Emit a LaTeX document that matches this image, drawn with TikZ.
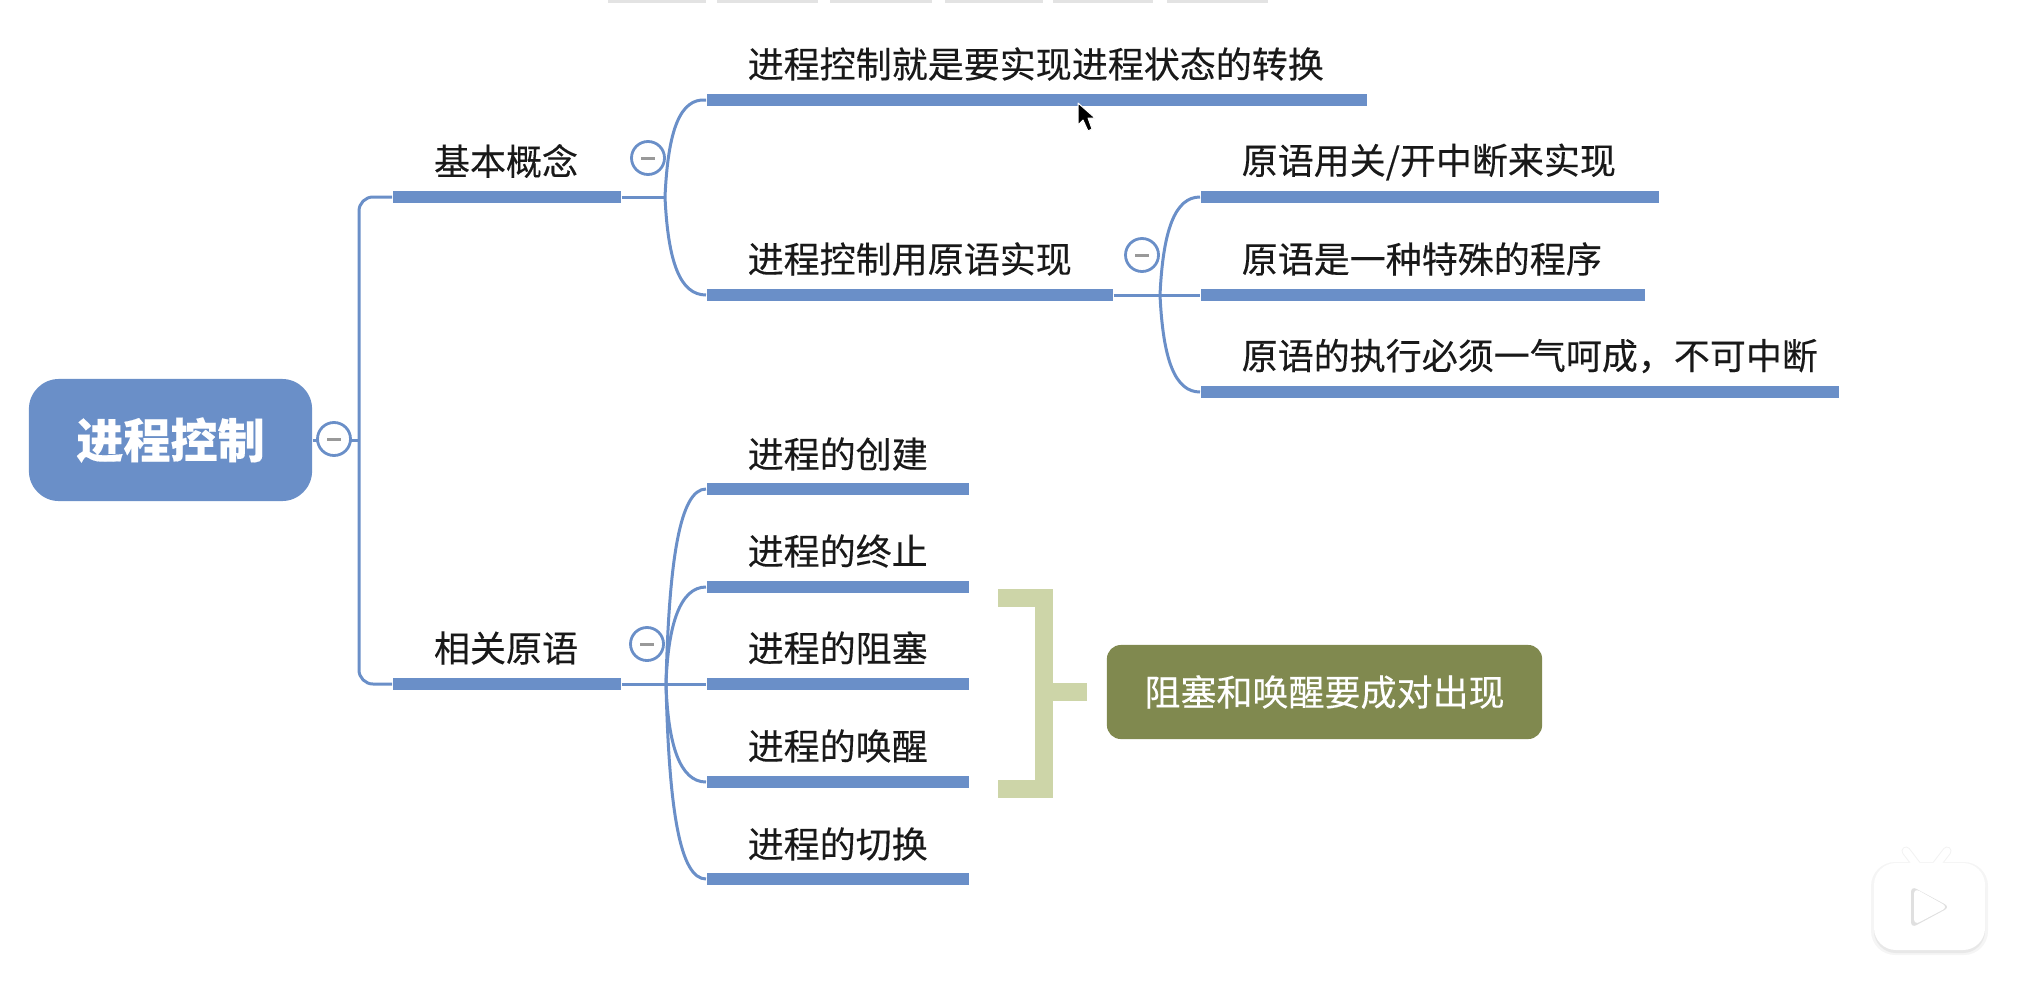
\documentclass[tikz,border=0pt]{standalone}
\usepackage{fontspec}
\setmainfont{Noto Sans CJK SC}[FakeBold=0.25]
\definecolor{mapblue}{HTML}{6A8FC8}
\definecolor{notegreen}{HTML}{80894F}
\definecolor{bracegreen}{HTML}{CDD5A8}
\tikzset{
  rootbox/.style={fill=mapblue,rounded corners=0.3cm,minimum width=2.83cm,minimum height=1.22cm,inner sep=0pt,text=white,font=\fontsize{13.4}{15}\selectfont\bfseries},
  notebox/.style={fill=notegreen,rounded corners=0.14cm,minimum width=4.35cm,minimum height=0.94cm,inner sep=0pt,text=white,font=\fontsize{10.24}{12}\selectfont},
  barbox/.style={fill=mapblue,anchor=west,inner sep=0pt,minimum height=0.115cm},
  topic/.style={inner sep=0pt,text=black!90,font=\fontsize{10.24}{12}\selectfont},
  leaf/.style={topic,anchor=west},
  link/.style={draw=mapblue,line width=0.03cm},
  fold/.style={circle,draw=mapblue,fill=white,line width=0.028cm,minimum size=0.33cm,inner sep=0pt},
  brace/.style={draw=bracegreen,line width=0.18cm},
  tab/.style={fill=black!11,draw=none},
}
\begin{document}
\begin{tikzpicture}[x=0.01cm,y=-0.01cm]
\useasboundingbox (0,0) rectangle (2034,1000);

% tabs cut off at the top
\fill[tab] (608,0) rectangle (706,3);
\fill[tab] (717,0) rectangle (818,3);
\fill[tab] (830,0) rectangle (932,3);
\fill[tab] (945,0) rectangle (1043,3);
\fill[tab] (1053,0) rectangle (1153,3);
\fill[tab] (1167,0) rectangle (1268,3);

\node[rootbox] (root) at (170.5,440) {\raisebox{-0.03cm}{进程控制}};

\node[barbox,minimum width=2.28cm] (basic) at (392,197) {};
\node[barbox,minimum width=2.28cm] (prim) at (392,684) {};
\node[topic] (basictxt) at (506,161) {基本概念};
\node[topic] (primtxt) at (506,648) {相关原语};

\node[barbox,minimum width=6.60cm] (state) at (706,100) {};
\node[barbox,minimum width=4.06cm] (impl) at (706,295) {};
\node[leaf] (statetxt) at (747,64) {进程控制就是要实现进程状态的转换};
\node[leaf] (impltxt) at (747,259) {进程控制用原语实现};

\node[barbox,minimum width=4.58cm] (irq) at (1200,197) {};
\node[barbox,minimum width=4.44cm] (prog) at (1200,295) {};
\node[barbox,minimum width=6.38cm] (atom) at (1200,392) {};
\node[leaf] (irqtxt) at (1241,162) {原语用关/开中断来实现};
\node[leaf] (progtxt) at (1241,259) {原语是一种特殊的程序};
\node[leaf] (atomtxt) at (1241,356) {原语的执行必须一气呵成，不可中断};

\node[barbox,minimum width=2.62cm] (create) at (706,489) {};
\node[barbox,minimum width=2.62cm] (stop) at (706,587) {};
\node[barbox,minimum width=2.62cm] (block) at (706,684) {};
\node[barbox,minimum width=2.62cm] (wake) at (706,782) {};
\node[barbox,minimum width=2.62cm] (switch) at (706,879) {};
\node[leaf] (createtxt) at (747,454) {进程的创建};
\node[leaf] (stoptxt) at (747,551) {进程的终止};
\node[leaf] (blocktxt) at (747,648) {进程的阻塞};
\node[leaf] (waketxt) at (747,746) {进程的唤醒};
\node[leaf] (switchtxt) at (747,844) {进程的切换};

\coordinate (trunk) at (359,440);
\coordinate (forka) at (665,197);
\coordinate (forkb) at (1160,295);
\coordinate (forkc) at (666,684);

\draw[link] (root.east) -- (trunk);
\draw[link,rounded corners=0.14cm] (basic.west) -- (trunk |- basic.west) -- (trunk |- prim.west) -- (prim.west);

\draw[link] (basic.east) -- (forka);
\draw[link] (forka) .. controls (668,130) and (680,98) .. (state.west);
\draw[link] (forka) .. controls (668,262) and (680,295) .. (impl.west);

\draw[link] (impl.east) -- (prog.west);
\draw[link] (forkb) .. controls (1163,230) and (1175,197) .. (irq.west);
\draw[link] (forkb) .. controls (1163,360) and (1175,392) .. (atom.west);

\draw[link] (prim.east) -- (block.west);
\draw[link] (forkc) .. controls (669,560) and (680,489) .. (create.west);
\draw[link] (forkc) .. controls (668,625) and (680,587) .. (stop.west);
\draw[link] (forkc) .. controls (668,745) and (680,782) .. (wake.west);
\draw[link] (forkc) .. controls (669,810) and (680,879) .. (switch.west);

\node[fold] (foldroot) at (334,439) {\textcolor{black!40}{\rule{0.14cm}{0.03cm}}};
\node[fold] (folda) at (648,158) {\textcolor{black!40}{\rule{0.14cm}{0.03cm}}};
\node[fold] (foldb) at (1142,255) {\textcolor{black!40}{\rule{0.14cm}{0.03cm}}};
\node[fold] (foldc) at (647,644) {\textcolor{black!40}{\rule{0.14cm}{0.03cm}}};

% bracket over the blocked and wake bars
\node[notebox] (note) at (1324.5,692) {\raisebox{-0.04cm}{阻塞和唤醒要成对出现}};
\coordinate (brace) at (1043.5,692);
\draw[brace] (998,598) -- (1043.5,598) -- (1043.5,789) -- (998,789);
\draw[brace,shorten >=0.19cm] (brace) -- (note.west);

% mouse pointer
\draw[white,fill=black,line width=0.01cm,line join=round] (1078,103) -- (1078,125) -- (1083,120) -- (1088,131) -- (1092,129) -- (1088,118) -- (1095,118) -- cycle;

% video badge
\draw[black!5,line width=0.09cm,line cap=round] (1906,851) -- (1919,868);
\draw[black!5,line width=0.09cm,line cap=round] (1947,851) -- (1934,868);
\fill[black!4,rounded corners=0.24cm] (1871,862) rectangle (1988,955);
\fill[black!9,rounded corners=0.22cm] (1874,866) rectangle (1985,953);
\fill[white,rounded corners=0.22cm] (1874,863) rectangle (1985,950);
\draw[white,line width=0.07cm,line cap=round] (1906,851) -- (1919,868);
\draw[white,line width=0.07cm,line cap=round] (1947,851) -- (1934,868);
\fill[black!12,rounded corners=0.06cm] (1911,886) -- (1950,907) -- (1911,928) -- cycle;
\fill[white,rounded corners=0.06cm] (1914,888) -- (1948,907) -- (1914,925) -- cycle;
\end{tikzpicture}
\end{document}
